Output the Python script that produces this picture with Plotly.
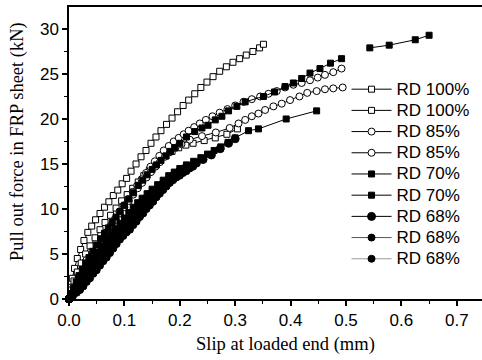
import plotly.graph_objects as go

# ---------------- data ----------------
names = ["RD 100%", "RD 100%", "RD 85%", "RD 85%", "RD 70%", "RD 70%", "RD 68%", "RD 68%", "RD 68%"]

x_rd100a = [0, 0.003, 0.006, 0.010, 0.015, 0.021, 0.027, 0.034, 0.041, 0.048, 0.056, 0.064, 0.072, 0.080,
            0.088, 0.096, 0.104, 0.112, 0.121, 0.130, 0.139, 0.148, 0.157, 0.166, 0.176, 0.186, 0.196, 0.206,
            0.216, 0.227, 0.238, 0.249, 0.260, 0.272, 0.284, 0.296, 0.308, 0.320, 0.332, 0.344, 0.351]
y_rd100a = [0, 1.3, 2.3, 3.4, 4.5, 5.5, 6.5, 7.4, 8.1, 8.8, 9.5, 10.2, 10.8, 11.5, 12.1, 12.8, 13.4, 14.2,
            15.0, 15.8, 16.5, 17.3, 18.0, 18.7, 19.4, 20.1, 20.8, 21.5, 22.1, 22.8, 23.5, 24.1, 24.7, 25.3,
            25.8, 26.3, 26.7, 27.1, 27.5, 27.9, 28.3]

x_rd100b = [0, 0.004, 0.009, 0.015, 0.022, 0.030, 0.038, 0.047, 0.056, 0.065, 0.075, 0.085, 0.095, 0.105,
            0.115, 0.125, 0.135, 0.145, 0.155, 0.165, 0.175, 0.186, 0.198, 0.211, 0.224, 0.244, 0.264, 0.285, 0.304]
y_rd100b = [0, 1.0, 2.0, 3.0, 4.0, 5.0, 5.9, 6.8, 7.7, 8.5, 9.3, 10.1, 10.9, 11.6, 12.3, 13.0, 13.7, 14.3,
            14.9, 15.4, 15.9, 16.4, 16.8, 17.1, 17.3, 17.6, 17.9, 18.3, 18.9]

x_rd85a = [0, 0.004, 0.009, 0.015, 0.021, 0.028, 0.035, 0.043, 0.051, 0.059, 0.067, 0.075, 0.083, 0.091,
           0.099, 0.107, 0.115, 0.123, 0.131, 0.139, 0.147, 0.155, 0.163, 0.171, 0.180, 0.189, 0.198, 0.207,
           0.216, 0.226, 0.236, 0.247, 0.259, 0.272, 0.286, 0.300, 0.315, 0.330, 0.345, 0.360, 0.375, 0.390,
           0.405, 0.420, 0.435, 0.449, 0.462, 0.477, 0.492]
y_rd85a = [0, 0.5, 1.1, 1.8, 2.5, 3.2, 4.0, 4.9, 5.8, 6.6, 7.4, 8.1, 8.9, 9.7, 10.4, 11.1, 11.9, 12.6, 13.3,
           14.0, 14.7, 15.3, 15.9, 16.5, 17.0, 17.5, 17.9, 18.3, 18.7, 19.1, 19.5, 19.9, 20.3, 20.7, 21.1,
           21.5, 21.9, 22.2, 22.5, 22.8, 23.1, 23.5, 23.8, 24.0, 24.3, 24.6, 24.9, 25.2, 25.6]

x_rd85b = [0, 0.005, 0.010, 0.016, 0.022, 0.029, 0.036, 0.044, 0.052, 0.060, 0.068, 0.076, 0.084, 0.092,
           0.100, 0.108, 0.116, 0.124, 0.132, 0.140, 0.148, 0.156, 0.164, 0.173, 0.182, 0.192, 0.203, 0.218,
           0.240, 0.265, 0.290, 0.306, 0.318, 0.330, 0.342, 0.354, 0.369, 0.384, 0.399, 0.416, 0.430, 0.447,
           0.462, 0.477, 0.494]
y_rd85b = [0, 0.6, 1.2, 1.9, 2.6, 3.4, 4.2, 5.0, 5.8, 6.6, 7.4, 8.1, 8.8, 9.5, 10.2, 10.9, 11.6, 12.3, 12.9,
           13.5, 14.1, 14.7, 15.2, 15.8, 16.3, 16.8, 17.2, 17.7, 18.1, 18.5, 19.0, 19.5, 19.9, 20.3, 20.6,
           21.0, 21.4, 21.7, 22.1, 22.5, 22.9, 23.1, 23.3, 23.4, 23.5]

x_rd70a = [0, 0.004, 0.008, 0.013, 0.018, 0.024, 0.030, 0.036, 0.043, 0.050, 0.057, 0.064, 0.071, 0.078,
           0.085, 0.092, 0.100, 0.108, 0.116, 0.125, 0.133, 0.141, 0.150, 0.158, 0.166, 0.175, 0.183, 0.191,
           0.200, 0.212, 0.227, 0.240, 0.251, 0.264, 0.276, 0.288, 0.303, 0.318, 0.351, 0.371, 0.390, 0.405,
           0.420, 0.435, 0.453, 0.472, 0.492, None, 0.543, 0.578, 0.625, 0.650]
y_rd70a = [0, 0.6, 1.2, 1.9, 2.6, 3.3, 4.0, 4.6, 5.3, 6.0, 6.7, 7.3, 7.9, 8.5, 9.1, 9.7, 10.4, 11.1, 11.8,
           12.6, 13.2, 13.8, 14.4, 14.9, 15.4, 15.9, 16.4, 16.8, 17.3, 18.0, 18.6, 19.0, 19.3, 19.9, 20.3,
           20.9, 21.4, 21.9, 22.5, 23.0, 23.6, 24.0, 24.5, 25.1, 25.6, 26.2, 26.7, None, 27.9, 28.2, 28.8, 29.3]

x_rd70b = [0, 0.005, 0.010, 0.016, 0.022, 0.029, 0.036, 0.044, 0.052, 0.060, 0.068, 0.076, 0.084, 0.092,
           0.100, 0.108, 0.116, 0.124, 0.132, 0.141, 0.150, 0.160, 0.170, 0.180, 0.190, 0.200, 0.212, 0.225,
           0.238, 0.250, 0.262, 0.274, 0.287, 0.300, 0.324, 0.342, 0.392, 0.447]
y_rd70b = [0, 0.5, 1.1, 1.7, 2.4, 3.1, 3.8, 4.5, 5.2, 5.9, 6.6, 7.2, 7.8, 8.4, 9.0, 9.6, 10.2, 10.7, 11.2,
           11.7, 12.2, 12.7, 13.2, 13.7, 14.1, 14.5, 14.9, 15.3, 15.7, 16.1, 16.5, 16.9, 17.4, 17.9, 18.7,
           18.9, 20.0, 20.9]

x_rd68a = [0, 0.005, 0.011, 0.018, 0.025, 0.033, 0.041, 0.050, 0.059, 0.068, 0.077, 0.086, 0.095, 0.104,
           0.113, 0.122, 0.131, 0.140, 0.150, 0.160, 0.170, 0.180, 0.190, 0.200, 0.212, 0.230, 0.242, 0.257,
           0.273, 0.288, 0.300]
y_rd68a = [0, 0.5, 1.1, 1.8, 2.5, 3.2, 3.9, 4.7, 5.4, 6.1, 6.8, 7.5, 8.1, 8.8, 9.4, 10.0, 10.6, 11.2, 11.8,
           12.3, 12.8, 13.3, 13.8, 14.2, 14.7, 15.1, 15.5, 16.0, 16.7, 17.3, 17.8]

x_rd68b = [0, 0.006, 0.012, 0.019, 0.026, 0.034, 0.042, 0.050, 0.058, 0.066, 0.074, 0.082, 0.090, 0.098,
           0.106, 0.114, 0.122, 0.130, 0.138, 0.146, 0.154, 0.162, 0.170, 0.178, 0.186, 0.194, 0.202, 0.210, 0.218]
y_rd68b = [0, 0.4, 0.9, 1.5, 2.1, 2.8, 3.4, 4.0, 4.7, 5.3, 5.9, 6.5, 7.1, 7.7, 8.3, 8.9, 9.4, 10.0, 10.5,
           11.0, 11.5, 12.0, 12.4, 12.9, 13.3, 13.7, 14.0, 14.4, 14.8]

x_rd68c = [0, 0.007, 0.014, 0.020, 0.026, 0.032, 0.038, 0.044, 0.050, 0.056, 0.062, 0.068, 0.074, 0.080,
           0.086, 0.092, 0.098, 0.104, 0.110, 0.116, 0.122, 0.128, 0.134, 0.140, 0.146, 0.152, 0.158, 0.164,
           0.170, 0.176, 0.182, 0.188, 0.194, 0.200, 0.206, 0.212, 0.218, 0.224]
y_rd68c = [0, 0.3, 0.7, 1.0, 1.4, 1.9, 2.3, 2.8, 3.2, 3.7, 4.2, 4.6, 5.1, 5.6, 6.1, 6.6, 7.0, 7.4, 7.7, 8.2,
           8.6, 9.1, 9.5, 10.0, 10.4, 10.8, 11.3, 11.7, 12.1, 12.5, 12.9, 13.2, 13.5, 13.7, 14.0, 14.2, 14.5, 14.7]

x_ticks = [0.0, 0.1, 0.2, 0.3, 0.4, 0.5, 0.6, 0.7]
y_ticks = [0, 5, 10, 15, 20, 25, 30]

# ---------------- styles ----------------
series = [
    (x_rd100a, y_rd100a, "square", "white", 6, "black"),
    (x_rd100b, y_rd100b, "square", "white", 6, "black"),
    (x_rd85a, y_rd85a, "circle", "white", 7, "black"),
    (x_rd85b, y_rd85b, "circle", "white", 7, "black"),
    (x_rd70a, y_rd70a, "square", "black", 6, "black"),
    (x_rd70b, y_rd70b, "square", "black", 6, "black"),
    (x_rd68a, y_rd68a, "circle", "black", 8, "black"),
    (x_rd68b, y_rd68b, "circle", "black", 7, "#555555"),
    (x_rd68c, y_rd68c, "circle", "black", 7, "#999999"),
]

fig = go.Figure()
for (xs, ys, sym, fill, size, lcol), nm in zip(series, names):
    fig.add_trace(go.Scatter(
        x=xs, y=ys, name=f"<span style='font-size:17px'>{nm}</span>",
        mode="lines+markers", cliponaxis=False,
        line=dict(color=lcol, width=1),
        marker=dict(symbol=sym, size=size, color=fill, line=dict(color="black", width=1)),
    ))

axis_font = dict(family="Liberation Sans, Arial, sans-serif", size=17, color="black")
title_font = dict(family="Liberation Serif, Times New Roman, serif", size=18.5, color="black")

fig.update_layout(
    width=482, height=360,
    margin=dict(l=69, r=0, t=7, b=61),
    paper_bgcolor="white", plot_bgcolor="white",
    showlegend=True,
    legend=dict(x=0.672, y=0.772, xanchor="left", yanchor="top",
                font=dict(family="Liberation Sans, Arial, sans-serif", size=14, color="black"),
                bgcolor="rgba(0,0,0,0)", tracegroupgap=0, itemwidth=40),
    xaxis=dict(range=[0, 0.7455], tickvals=x_ticks, ticktext=[f"{v:.1f}" for v in x_ticks],
               ticks="outside", ticklen=5, tickwidth=1.5, tickcolor="black",
               minor=dict(dtick=0.05, tick0=0, ticks="outside", ticklen=3, tickwidth=1.2, tickcolor="black"),
               showline=True, linecolor="black", linewidth=1.5, mirror=True,
               showgrid=False, zeroline=False, tickfont=axis_font),
    yaxis=dict(range=[0, 32.44], tickvals=y_ticks,
               ticks="outside", ticklen=5, tickwidth=1.5, tickcolor="black",
               minor=dict(dtick=2.5, tick0=0, ticks="outside", ticklen=3, tickwidth=1.2, tickcolor="black"),
               showline=True, linecolor="black", linewidth=1.5, mirror=False,
               showgrid=False, zeroline=False, tickfont=axis_font),
    annotations=[
        dict(text="Slip at loaded end (mm)", xref="paper", yref="paper", x=0.525, y=-0.1575,
             xanchor="center", yanchor="middle", showarrow=False, font=title_font),
        dict(text="Pull out force in FRP sheet (kN)", xref="paper", yref="paper", x=-0.126, y=0.541,
             xanchor="center", yanchor="middle", showarrow=False, textangle=-90, font=title_font),
    ],
)

fig.write_html("out.html")
